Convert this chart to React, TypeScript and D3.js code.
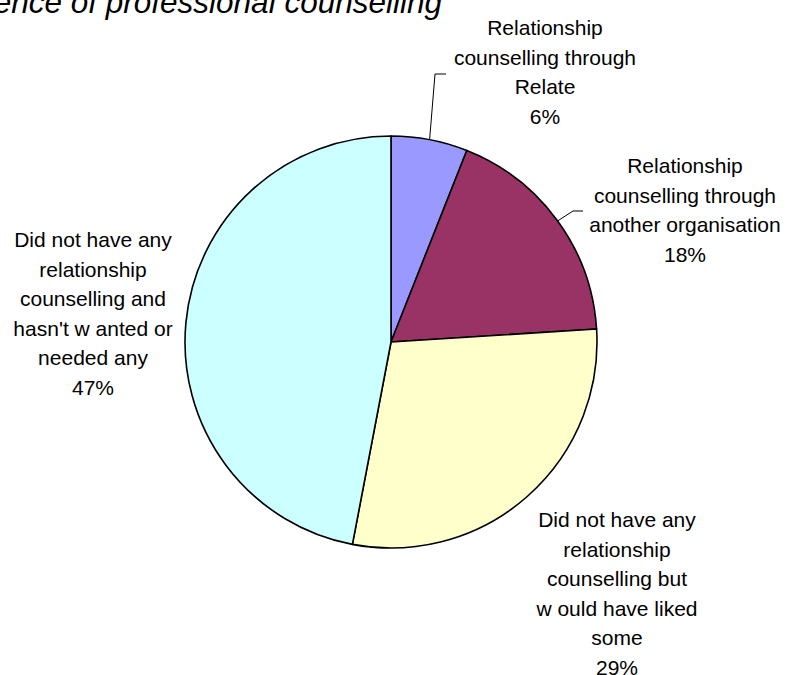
import React from "react";
import * as d3 from "d3";

// ---- data ----
const categories = [
  "Relationship counselling through Relate",
  "Relationship counselling through another organisation",
  "Did not have any relationship counselling but would have liked some",
  "Did not have any relationship counselling and hasn't wanted or needed any",
];
const values = [6, 18, 29, 47];
const labelLines = [
  ["Relationship", "counselling through", "Relate"],
  ["Relationship", "counselling through", "another organisation"],
  ["Did not have any", "relationship", "counselling but", "w ould have liked", "some"],
  ["Did not have any", "relationship", "counselling and", "hasn't w anted or", "needed any"],
];
const percentLabels = ["6%", "18%", "29%", "47%"];
const colors = ["#9999FF", "#993366", "#FFFFCC", "#CCFFFF"];
const title = "Experience of professional counselling";

// ---- layout ----
const W = 787;
const H = 675;
const cx = 391;
const cy = 342;
const R = 206;
const lineH = 29.5;
const labelPos = [
  { x: 545, y: 35 },
  { x: 685, y: 173 },
  { x: 617, y: 527 },
  { x: 93, y: 247 },
];
// leader elbows, relative to label anchor
const leaders = [
  { ex: -110, ey: 39, hx: -99 },
  { ex: -112, ey: 38, hx: -102 },
  null,
  null,
];

export default function App() {
  const pie = d3
    .pie<number>()
    .sort(null)
    .value((d) => d)
    .startAngle(0)
    .endAngle(2 * Math.PI);
  const arcs = pie(values);
  const arc = d3.arc<d3.PieArcDatum<number>>().innerRadius(0).outerRadius(R);

  return (
    <svg
      width={W}
      height={H}
      style={{ position: "absolute", left: 0, top: 0, background: "#fff" }}
      fontFamily="'Liberation Sans', Arial, sans-serif"
    >
      <rect x={0} y={0} width={W} height={H} fill="#fff" />
      <text
        x={442}
        y={13}
        textAnchor="end"
        fontSize={31.5}
        fontStyle="italic"
        fill="#000"
      >
        {title}
      </text>
      <g transform={`translate(${cx},${cy})`}>
        {arcs.map((a, i) => (
          <path
            key={categories[i]}
            d={arc(a) || ""}
            fill={colors[i]}
            stroke="#000"
            strokeWidth={1.6}
            strokeLinejoin="round"
          />
        ))}
      </g>
      {arcs.map((a, i) => {
        const L = leaders[i];
        if (!L) return null;
        const mid = (a.startAngle + a.endAngle) / 2;
        const sx = cx + R * Math.sin(mid);
        const sy = cy - R * Math.cos(mid);
        const p = labelPos[i];
        const pts = [
          [sx, sy],
          [p.x + L.ex, p.y + L.ey],
          [p.x + L.hx, p.y + L.ey],
        ];
        return (
          <polyline
            key={"lead" + i}
            points={pts.map((q) => q.join(",")).join(" ")}
            fill="none"
            stroke="#000"
            strokeWidth={1}
          />
        );
      })}
      {labelLines.map((lines, i) => {
        const p = labelPos[i];
        const all = [...lines, percentLabels[i]];
        return (
          <text
            key={"lab" + i}
            x={p.x}
            y={p.y}
            textAnchor="middle"
            fontSize={21}
            fill="#000"
          >
            {all.map((t, j) => (
              <tspan key={j} x={p.x} y={p.y + j * lineH}>
                {t}
              </tspan>
            ))}
          </text>
        );
      })}
    </svg>
  );
}
